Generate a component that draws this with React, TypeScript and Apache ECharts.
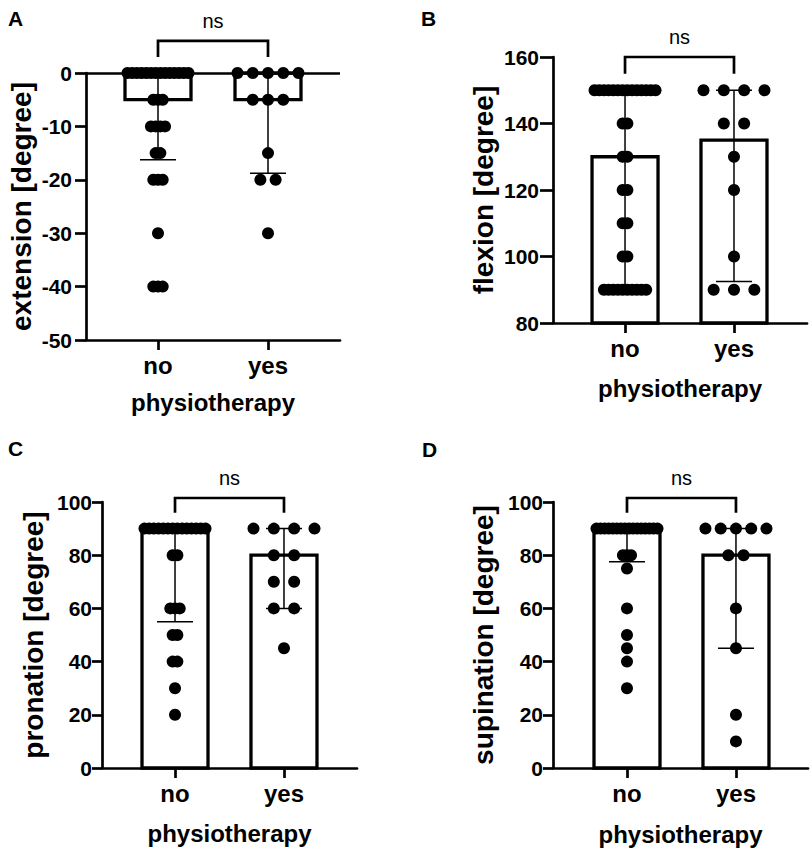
import React, { useEffect, useRef } from "react";
import * as echarts from "echarts";

const groups = ["no", "yes"];
const xAxisTitle = "physiotherapy";
const significance = "ns";

// Panel A: extension
const extensionNo = [0, 0, 0, 0, 0, 0, 0, 0, 0, 0, 0, 0, 0, 0, -5, -5, -5, -10, -10, -10, -10, -15, -15, -20, -20, -20, -30, -40, -40, -40];
const extensionYes = [0, 0, 0, 0, 0, -5, -5, -5, -15, -20, -20, -30];
const extensionMedian = [-5, -5];
const extensionQ1 = [-16.25, -18.75];
const extensionQ3 = [0, 0];
const extensionAxis = [-50, 0, 10];
const extensionBracket = [6, 3];

// Panel B: flexion
const flexionNo = [150, 150, 150, 150, 150, 150, 150, 150, 150, 150, 150, 150, 150, 150, 140, 140, 130, 130, 120, 120, 110, 110, 100, 100, 90, 90, 90, 90, 90, 90, 90, 90, 90, 90];
const flexionYes = [150, 150, 150, 150, 140, 140, 130, 120, 100, 90, 90, 90];
const flexionMedian = [130, 135];
const flexionQ1 = [90, 92.5];
const flexionQ3 = [150, 150];
const flexionAxis = [80, 160, 20];
const flexionBracket = [160, 155];

// Panel C: pronation
const pronationNo = [90, 90, 90, 90, 90, 90, 90, 90, 90, 90, 90, 90, 90, 90, 80, 80, 60, 60, 60, 50, 50, 40, 40, 30, 20];
const pronationYes = [90, 90, 90, 90, 80, 80, 70, 70, 60, 60, 45];
const pronationMedian = [90, 80];
const pronationQ1 = [55, 60];
const pronationQ3 = [90, 90];
const pronationAxis = [0, 100, 20];
const pronationBracket = [101.5, 96];

// Panel D: supination
const supinationNo = [90, 90, 90, 90, 90, 90, 90, 90, 90, 90, 90, 90, 90, 90, 90, 90, 80, 80, 80, 75, 60, 50, 45, 40, 30];
const supinationYes = [90, 90, 90, 90, 90, 80, 80, 60, 45, 20, 10];
const supinationMedian = [90, 80];
const supinationQ1 = [77.5, 45];
const supinationQ3 = [90, 90];
const supinationAxis = [0, 100, 20];
const supinationBracket = [101.5, 96];

const FONT = "'Liberation Sans', Arial, Helvetica, sans-serif";

const panels = [
  {
    letter: "A", yName: "extension [degree]", values: [extensionNo, extensionYes],
    median: extensionMedian, q1: extensionQ1, q3: extensionQ3, axis: extensionAxis, bracket: extensionBracket,
    base: 0, zeroLine: true,
    grid: { left: 86, top: 73, width: 254, height: 267 }, xMin: -0.6545, xMax: 1.6545,
    labelMargin: 14, tickLen: 11, nameGap: 51, xNameGap: 50, letterPos: [8, 8],
  },
  {
    letter: "B", yName: "flexion [degree]", values: [flexionNo, flexionYes],
    median: flexionMedian, q1: flexionQ1, q3: flexionQ3, axis: flexionAxis, bracket: flexionBracket,
    base: 80, zeroLine: false,
    grid: { left: 553, top: 57, width: 254, height: 266 }, xMin: -0.661, xMax: 1.67,
    labelMargin: 14, tickLen: 13, nameGap: 56, xNameGap: 53, letterPos: [421, 8],
  },
  {
    letter: "C", yName: "pronation [degree]", values: [pronationNo, pronationYes],
    median: pronationMedian, q1: pronationQ1, q3: pronationQ3, axis: pronationAxis, bracket: pronationBracket,
    base: 0, zeroLine: false,
    grid: { left: 102, top: 502, width: 255, height: 266 }, xMin: -0.67, xMax: 1.67,
    labelMargin: 10, tickLen: 10, nameGap: 55, xNameGap: 53, letterPos: [8, 438],
  },
  {
    letter: "D", yName: "supination [degree]", values: [supinationNo, supinationYes],
    median: supinationMedian, q1: supinationQ1, q3: supinationQ3, axis: supinationAxis, bracket: supinationBracket,
    base: 0, zeroLine: false,
    grid: { left: 553, top: 502, width: 255, height: 266 }, xMin: -0.679, xMax: 1.661,
    labelMargin: 10, tickLen: 10, nameGap: 56, xNameGap: 54, letterPos: [422, 439],
  },
];

const SPREAD = 61; // px span of the widest row of dots
const BAR_HALF = 33;
const CAP_HALF = 18;

function dotItems(values: number[], g: number) {
  const counts = new Map<number, number>();
  values.forEach((v) => counts.set(v, (counts.get(v) || 0) + 1));
  let maxRow = 1;
  counts.forEach((c) => { if (c > maxRow) maxRow = c; });
  const spacing = maxRow > 1 ? Math.min(21, SPREAD / (maxRow - 1)) : 0;
  const items: any[] = [];
  counts.forEach((c, v) => {
    for (let i = 0; i < c; i++) {
      items.push({ value: [g, v], symbolOffset: [(i - (c - 1) / 2) * spacing, 0] });
    }
  });
  return items;
}

function buildOption() {
  const lineStyle = { color: "#000", width: 2.7 };
  const grid: any[] = [];
  const xAxis: any[] = [];
  const yAxis: any[] = [];
  const series: any[] = [];
  const graphic: any[] = [];

  panels.forEach((p, i) => {
    grid.push({ ...p.grid, containLabel: false });
    xAxis.push({
      gridIndex: i, type: "value", min: p.xMin, max: p.xMax,
      splitLine: { show: false },
      axisLine: { show: true, onZero: false, lineStyle },
      axisTick: { show: true, customValues: [0, 1], length: 10, lineStyle },
      axisLabel: {
        customValues: [0, 1], formatter: (v: number) => groups[Math.round(v)] ?? "",
        margin: 13, color: "#000", fontSize: 24, fontWeight: "bold", fontFamily: FONT,
      },
      name: xAxisTitle, nameLocation: "middle", nameGap: p.xNameGap,
      nameTextStyle: { color: "#000", fontSize: 24, fontWeight: "bold", fontFamily: FONT },
    });
    yAxis.push({
      gridIndex: i, type: "value", min: p.axis[0], max: p.axis[1], interval: p.axis[2],
      splitLine: { show: false },
      axisLine: { show: true, onZero: false, lineStyle },
      axisTick: { show: true, length: p.tickLen, lineStyle },
      axisLabel: { margin: p.labelMargin, color: "#000", fontSize: 21, fontWeight: "bold", fontFamily: FONT },
      name: p.yName, nameLocation: "middle", nameGap: p.nameGap, nameRotate: 90,
      nameTextStyle: { color: "#000", fontSize: 28, fontWeight: "bold", fontFamily: FONT },
    });

    // bars (median)
    series.push({
      type: "custom", coordinateSystem: "cartesian2d", xAxisIndex: i, yAxisIndex: i, z: 2, clip: false,
      data: groups.map((_, g) => [g, p.median[g], p.base]),
      renderItem: (_params: any, api: any) => {
        const top = api.coord([api.value(0), api.value(1)]);
        const bot = api.coord([api.value(0), api.value(2)]);
        const y0 = Math.min(top[1], bot[1]);
        const h = Math.abs(top[1] - bot[1]);
        return {
          type: "rect",
          shape: { x: top[0] - BAR_HALF, y: y0, width: BAR_HALF * 2, height: h },
          style: { fill: "#fff", stroke: "#000", lineWidth: 3.3 },
        };
      },
      markLine: p.zeroLine
        ? {
            silent: true, symbol: ["none", "none"], label: { show: false },
            lineStyle: { color: "#000", width: 2.7, type: "solid", opacity: 1 },
            emphasis: { disabled: true },
            data: [{ yAxis: 0 }],
          }
        : undefined,
    });

    // interquartile range error bars
    series.push({
      type: "custom", coordinateSystem: "cartesian2d", xAxisIndex: i, yAxisIndex: i, z: 3, clip: false,
      data: groups.map((_, g) => [g, p.q1[g], p.q3[g]]),
      renderItem: (_params: any, api: any) => {
        const lo = api.coord([api.value(0), api.value(1)]);
        const hi = api.coord([api.value(0), api.value(2)]);
        const style = { stroke: "#000", lineWidth: 1.5, fill: "none" };
        return {
          type: "group",
          children: [
            { type: "line", shape: { x1: lo[0], y1: lo[1], x2: hi[0], y2: hi[1] }, style },
            { type: "line", shape: { x1: lo[0] - CAP_HALF, y1: lo[1], x2: lo[0] + CAP_HALF, y2: lo[1] }, style },
            { type: "line", shape: { x1: hi[0] - CAP_HALF, y1: hi[1], x2: hi[0] + CAP_HALF, y2: hi[1] }, style },
          ],
        };
      },
    });

    // individual points
    series.push({
      type: "scatter", xAxisIndex: i, yAxisIndex: i, z: 4,
      symbol: "circle", symbolSize: 12,
      itemStyle: { color: "#000", opacity: 1 },
      data: [...dotItems(p.values[0], 0), ...dotItems(p.values[1], 1)],
    });

    // significance bracket
    series.push({
      type: "custom", coordinateSystem: "cartesian2d", xAxisIndex: i, yAxisIndex: i, z: 5, clip: false,
      data: [[0, 1, p.bracket[0], p.bracket[1]]],
      renderItem: (_params: any, api: any) => {
        const a = api.coord([api.value(0), api.value(2)]);
        const b = api.coord([api.value(1), api.value(2)]);
        const yb = api.coord([api.value(0), api.value(3)])[1];
        return {
          type: "group",
          children: [
            {
              type: "polyline",
              shape: { points: [[a[0], yb], [a[0], a[1]], [b[0], b[1]], [b[0], yb]] },
              style: { stroke: "#000", lineWidth: 2.7, fill: "none" },
            },
            {
              type: "text", x: (a[0] + b[0]) / 2, y: a[1] - 10,
              style: { text: significance, fill: "#000", fontSize: 20, fontFamily: FONT, align: "center", verticalAlign: "bottom" },
            },
          ],
        };
      },
    });

    graphic.push({
      type: "text", x: p.letterPos[0], y: p.letterPos[1],
      style: { text: p.letter, fill: "#000", fontSize: 21, fontWeight: "bold", fontFamily: FONT, align: "left", verticalAlign: "top" },
    });
  });

  return { animation: false, backgroundColor: "#fff", grid, xAxis, yAxis, series, graphic };
}

export default function App() {
  const ref = useRef<HTMLDivElement>(null);
  useEffect(() => {
    document.body.style.margin = "0";
    if (!ref.current) return;
    const chart = echarts.init(ref.current, null, { renderer: "svg" });
    chart.setOption(buildOption() as any);
    return () => chart.dispose();
  }, []);
  return <div ref={ref} style={{ width: 810, height: 853 }} />;
}
